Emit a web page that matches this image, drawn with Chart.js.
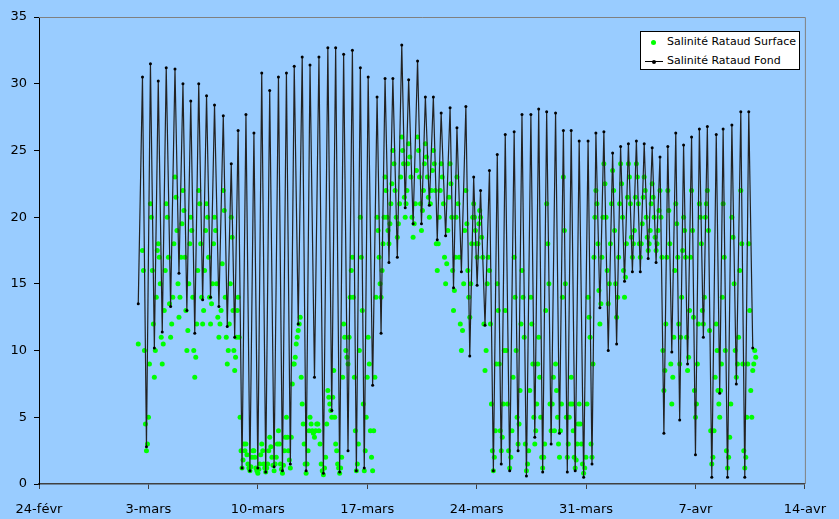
<!DOCTYPE html>
<html>
<head>
<meta charset="utf-8">
<script src="https://cdn.jsdelivr.net/npm/chart.js@4.4.1/dist/chart.umd.min.js"></script>
<style>
  html, body { margin: 0; padding: 0; background: #99ccff; }
  #wrap { position: relative; width: 839px; height: 519px; }
  #legend {
    position: absolute; left: 640px; top: 31px; width: 160px; height: 39px;
    background: #fff; border: 1px solid #000; box-sizing: border-box;
    font: 11px "Comic Sans MS", "DejaVu Sans", sans-serif; color: #000;
  }
  .row { position: absolute; left: 0; height: 16px; line-height: 16px; white-space: nowrap; }
  .row span.txt { position: absolute; left: 26px; top: 0; }
  .dot { position: absolute; left: 10px; top: 6px; width: 5px; height: 5px; border-radius: 50%; background: #00ff00; }
  .ln { position: absolute; left: 4px; top: 8px; width: 18px; height: 1px; background: #000; }
  .ln::after { content: ""; position: absolute; left: 7px; top: -1.5px; width: 4px; height: 4px; border-radius: 50%; background: #000; }
</style>
</head>
<body>
<div id="wrap">
  <canvas id="chart" width="839" height="519"></canvas>
  <div id="legend">
    <div class="row" style="top:2px"><div class="dot"></div><span class="txt">Salinité Rataud Surface</span></div>
    <div class="row" style="top:21px"><div class="ln"></div><span class="txt">Salinité Rataud Fond</span></div>
  </div>
</div>
<script>
// x axis: days since 24 Feb
const tickLabels = ['24-févr', '3-mars', '10-mars', '17-mars', '24-mars', '31-mars', '7-avr', '14-avr'];

// first sample of the record
const startDay = 6.35;
const startFond = 13.5;
const startSurf = 10.5;

// time (days) of each high tide
const highDays = [
  6.62, 7.13, 7.63, 8.14, 8.70, 9.21, 9.71, 10.22, 10.72, 11.23, 11.79, 12.30, 12.74,
  13.24, 13.75, 14.25, 14.76, 15.32, 15.83, 16.33, 16.84, 17.34, 17.91, 18.48, 18.98, 19.49, 20.05, 20.56,
  21.06, 21.63, 22.14, 22.64, 23.21, 23.65, 24.22, 24.72, 25.23, 25.73, 26.30, 26.74, 27.31, 27.81,
  28.25, 28.82, 29.32, 29.83, 30.40, 30.90, 31.47, 31.97, 32.48, 33.05, 33.55, 34.05, 34.56, 35.13,
  35.63, 36.14, 36.70, 37.21, 37.71, 38.22, 38.72, 39.23, 39.73, 40.23, 40.74,
  41.24, 41.75, 42.25, 42.76, 43.33, 43.77, 44.33, 44.90, 45.41
];

// bottom salinity at high tide and at the following low tide
const fondHigh = [
  30.5, 31.5, 30.2, 31.2, 31.1, 30.0, 28.7, 30.0, 29.1, 28.4, 27.6, 24.0, 26.5,
  27.7, 26.3, 30.8, 29.5, 30.5, 30.8, 31.3, 32.0, 31.4, 32.0, 32.7, 32.7, 32.2, 32.5, 31.2,
  30.5, 29.0, 30.4, 30.4, 32.9, 30.3, 31.7, 29.0, 29.0, 27.8, 28.2, 26.7, 28.3, 23.0,
  22.0, 23.5, 24.7, 26.2, 26.4, 27.7, 27.7, 28.1, 27.9, 27.8, 26.5, 26.5, 25.7, 25.7,
  26.3, 26.4, 24.8, 25.3, 25.5, 25.7, 25.5, 25.2, 24.5, 25.3, 26.3,
  25.4, 26.0, 26.6, 26.8, 26.2, 26.6, 26.9, 27.9, 27.9
];
const fondLow = [
  2.8, 10.2, 11.4, 13.3, 15.8, 13.0, 11.3, 13.8, 14.0, 13.3, 11.8, 11.0, 1.2,
  1.0, 1.2, 0.9, 1.3, 1.0, 1.5, 12.0, 1.0, 8.0, 0.8, 5.5, 0.9, 2.5, 1.0, 1.2,
  7.4, 11.3, 16.6, 17.0, 20.7, 19.5, 19.5, 20.9, 18.3, 18.6, 14.7, 15.9, 9.6, 14.9,
  11.9, 1.0, 1.5, 1.0, 2.5, 0.6, 3.5, 0.9, 3.0, 3.8, 0.9, 1.0, 0.5, 1.5,
  13.2, 10.0, 10.5, 15.2, 15.9, 15.9, 16.9, 16.6, 3.8, 9.9, 4.8,
  9.0, 2.2, 11.0, 0.5, 6.8, 0.5, 7.5, 0.5, 10.2
];

// surface salinity through each tide cycle, one value per eighth of a cycle
const surfHigh = [
  17.5, 21, 18, 21, 23, 22, 20, 22, 21, 20, 22, 20, 14,
  3, 2.5, 3, 3.5, 4, 5, 9, 6, 5, 4, 7, 3, 12, 17, 20,
  11, 20, 23, 25, 26, 25.5, 26, 25.5, 25, 24, 24, 23, 22, 21,
  20, 16, 15, 13, 17, 16, 14, 11, 21, 9, 23, 8, 6, 14,
  22, 24, 23.5, 24, 24, 24, 23, 22.5, 22, 22, 21,
  20, 22, 21, 22, 12, 21, 20, 22, 18
];
const surfEbb1 = [
  16, 20, 17, 20, 21.5, 20.5, 19, 21, 20, 19, 20.5, 18.5, 11,
  2.2, 2, 2.5, 2.8, 3, 3.5, 9.5, 4.5, 4.5, 3, 6.5, 2.5, 11, 14, 17,
  9, 19, 22, 24, 25, 24.5, 25, 24.5, 24, 23, 22.5, 21, 19.5, 20,
  18.5, 12, 13, 10, 14, 14, 12, 8, 18, 7, 19, 6, 4.5, 12.5,
  21, 22.5, 22, 22.5, 23, 23, 22, 21.5, 20, 20.5, 19.5,
  19, 19, 20, 19, 10, 17, 18.5, 18, 13
];
const surfFall = [
  10, 16, 15, 17, 19, 17, 14, 18, 17, 15, 14, 13, 5,
  1.5, 1.2, 1.5, 2, 1.5, 2.5, 10.5, 3, 4, 1.5, 6, 1.5, 10, 8, 13,
  4, 17, 20, 22, 24, 23, 23, 23, 22, 21, 20, 17, 16, 19,
  17, 6, 9, 6, 10, 11, 9, 5, 15, 5, 15, 4, 3, 11,
  18, 20, 19, 20, 21, 21, 20, 20, 17, 18, 17,
  17, 12.5, 18, 11.5, 7, 10, 15, 9, 7
];
const surfEbb2 = [
  4.5, 12, 11, 13.5, 15, 13, 10, 14, 14, 12.5, 11, 10, 2.5,
  1.2, 1, 1.2, 1.4, 1.1, 1.8, 11, 1.5, 3.8, 1, 5.5, 1.2, 9.5, 4, 6,
  2, 15, 19, 20, 21.5, 20, 21, 21.5, 18, 17, 16, 12, 14, 18,
  12, 2.5, 4, 2.5, 5, 3, 5, 2, 6, 3, 5, 2, 1.5, 3,
  14.5, 16, 15, 16, 18.5, 18, 18.5, 18.5, 10, 9, 12,
  11, 7, 13, 4, 6, 2.5, 10, 2.5, 5
];
const surfLow = [
  2.5, 8, 9, 11, 12.5, 10, 8, 12, 12, 11, 9, 8.5, 1.2,
  1.0, 0.8, 0.9, 1.0, 0.8, 1.2, 11.5, 0.8, 3.5, 0.7, 5, 0.8, 9, 1, 1.0,
  1, 14, 18, 18.5, 20, 18.5, 19, 20, 16, 15, 13, 10, 12.5, 17,
  8.5, 1.0, 2.5, 1.2, 3, 1.0, 3, 1.2, 4, 2, 2, 1.2, 0.8, 2,
  12, 13.5, 12.5, 14, 17, 17, 17.5, 17.5, 7, 6, 9,
  8.5, 5, 12, 1.5, 5, 1.2, 8, 1.2, 8.5
];
const surfFlood1 = [
  3, 10, 10.5, 12, 14, 11.5, 9.5, 13, 13.5, 12, 10, 9.5, 1.8,
  1.3, 1.1, 1.2, 1.5, 1.4, 3.5, 12, 1.5, 4, 1.2, 6.5, 1.2, 11, 1.5, 2.5,
  4, 16, 19.5, 19.5, 21, 19.5, 20.5, 21, 18, 16.5, 14.5, 11.5, 15, 18,
  10, 2, 3.5, 2, 4.5, 1.5, 4, 2, 6, 4, 3, 1.8, 1.2, 9,
  13.5, 15, 14, 15.5, 18, 18, 18, 18, 8.5, 8, 11,
  9.5, 6, 14, 2, 7, 2, 9, 2, 9
];
const surfRise = [
  5, 14, 13, 14, 17, 15, 12, 16, 15, 13, 12, 11, 3,
  2, 1.5, 1.5, 2, 2.5, 7.5, 12.5, 2.5, 4.5, 2, 8.5, 2, 14, 3, 5,
  8, 18, 21, 21, 22, 21, 22, 22, 20, 19, 17, 15, 18, 19.5,
  15, 4, 6, 4, 7, 2.5, 6, 3, 8, 6, 5, 3, 2, 17,
  17, 18, 17, 18, 19, 19.5, 19, 19, 12, 11, 14,
  13, 9, 20, 4, 9, 3.5, 11, 5, 10
];
const surfFlood2 = [
  9, 17.5, 16, 18, 19.5, 18, 16, 19, 18, 16.5, 15, 13, 2.5,
  2.5, 2.2, 2.5, 3, 3.5, 9, 8, 4, 4.5, 4.5, 5, 8, 16, 10, 8,
  14, 20, 22.5, 23, 24, 23.5, 24, 23.5, 22, 21.5, 20, 19, 20, 20.5,
  17, 9, 10, 8, 12, 7, 9, 13, 4, 14, 6, 4.5, 6, 20,
  20, 21, 21, 21.5, 21.5, 21.5, 21, 20.5, 17, 16, 17.5,
  17, 12, 21, 8, 14, 6, 16, 9, 9.5
];

// build point lists: a tide cycle runs from one high to the next
const surfPhases = [surfHigh, surfEbb1, surfFall, surfEbb2, surfLow, surfFlood1, surfRise, surfFlood2];
const fondPts = [{ x: startDay, y: startFond }];
const surfPts = [{ x: startDay, y: startSurf }];
for (let i = 0; i < highDays.length; i++) {
  const t = highDays[i];
  const span = i < highDays.length - 1 ? highDays[i + 1] - t : t - highDays[i - 1];
  fondPts.push({ x: t, y: fondHigh[i] });
  fondPts.push({ x: t + span / 2, y: fondLow[i] });
  surfPhases.forEach((arr, k) => {
    surfPts.push({ x: t + k * span / 8, y: arr[i] });
  });
}

const FONT = '"Comic Sans MS", "DejaVu Sans", sans-serif';

// grey top / right frame of the plot area
const frame = {
  id: 'frame',
  afterDraw(c) {
    const a = c.chartArea, ctx = c.ctx;
    ctx.save();
    ctx.strokeStyle = '#808080';
    ctx.lineWidth = 1;
    ctx.beginPath();
    ctx.moveTo(a.left, a.top + 0.5);
    ctx.lineTo(a.right + 0.5, a.top + 0.5);
    ctx.lineTo(a.right + 0.5, a.bottom);
    ctx.stroke();
    ctx.restore();
  }
};

new Chart(document.getElementById('chart'), {
  type: 'scatter',
  plugins: [frame],
  data: {
    datasets: [
      {
        label: 'Salinité Rataud Fond',
        data: fondPts,
        showLine: true,
        borderColor: '#222',
        borderWidth: 1.2,
        pointRadius: 1.5,
        pointBackgroundColor: '#000',
        pointBorderWidth: 0,
        order: 0
      },
      {
        label: 'Salinité Rataud Surface',
        data: surfPts,
        showLine: false,
        pointRadius: 2.5,
        pointBackgroundColor: '#00ff00',
        pointBorderWidth: 0,
        order: 1
      }
    ]
  },
  options: {
    responsive: false,
    animation: false,
    layout: { padding: { top: 17, right: 23, left: 0, bottom: 0 } },
    plugins: { legend: { display: false }, tooltip: { enabled: false } },
    scales: {
      x: {
        type: 'linear',
        min: 0,
        max: 49,
        afterFit: (s) => { s.height = 35; },
        ticks: {
          stepSize: 7,
          autoSkip: false,
          maxRotation: 0,
          padding: 13,
          color: '#000',
          font: { family: FONT, size: 13 },
          callback: (v, i) => tickLabels[i]
        },
        grid: { drawOnChartArea: false, tickLength: 5, color: '#404040' },
        border: { color: '#404040', width: 1.5 }
      },
      y: {
        min: 0,
        max: 35,
        afterFit: (s) => { s.width = 39; },
        ticks: {
          stepSize: 5,
          padding: 7,
          color: '#000',
          font: { family: FONT, size: 13 }
        },
        grid: { drawOnChartArea: false, tickLength: 5, color: '#000' },
        border: { color: '#000', width: 1 }
      }
    }
  }
});
</script>
</body>
</html>
